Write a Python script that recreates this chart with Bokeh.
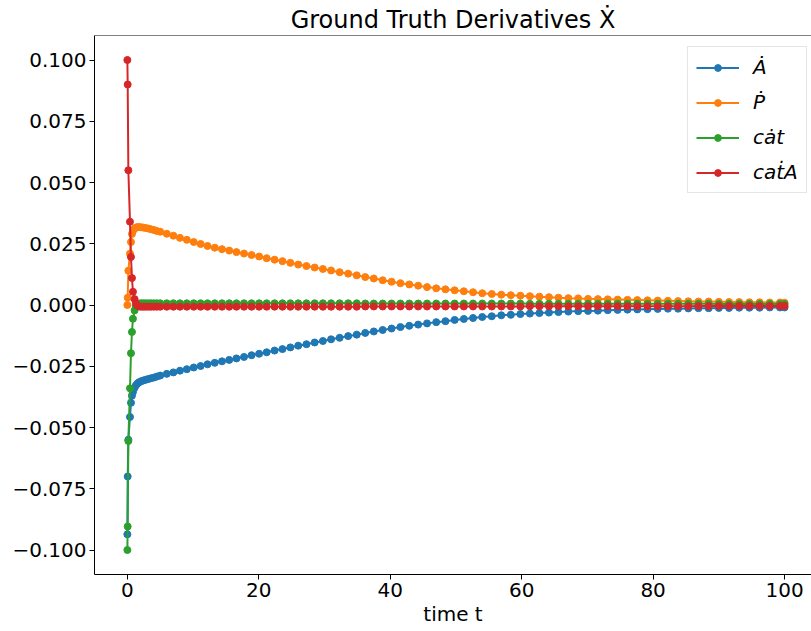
from bokeh.plotting import figure
from bokeh.models import Range1d, FixedTicker, CustomJSTickFormatter, Legend, LegendItem, Span
from bokeh.embed import file_html
from bokeh.resources import INLINE

# ---- data ----
time = [
    0, 0.05, 0.15, 0.4, 0.55, 0.7, 0.85, 1.1, 1.3, 1.55,
    1.8, 2.1, 2.45, 2.8, 3.2, 3.6, 4.05, 4.5, 5.0, 6.0,
    7.0, 8.0, 9.05, 10.1, 11.15, 12.2, 13.3, 14.4, 15.5, 16.6,
    17.75, 18.9, 20.05, 21.2, 22.4, 23.6, 24.8, 26.0, 27.25, 28.5,
    29.75, 31.0, 32.3, 33.6, 34.9, 36.2, 37.5, 38.85, 40.2, 41.55,
    42.9, 44.25, 45.6, 47.0, 48.4, 49.8, 51.2, 52.6, 54.0, 55.45,
    56.9, 58.35, 59.8, 61.25, 62.7, 64.15, 65.6, 67.1, 68.6, 70.1,
    71.6, 73.1, 74.6, 76.1, 77.6, 79.15, 80.7, 82.25, 83.8, 85.35,
    86.9, 88.45, 90.0, 91.55, 93.1, 94.65, 96.2, 97.75, 99.3, 100.0,
]

A_dot = [
    -0.0936, -0.070, -0.055, -0.0457, -0.0399, -0.037, -0.0355, -0.0338, -0.0328, -0.0320,
    -0.0315, -0.0311, -0.0308, -0.0305, -0.0302, -0.0299, -0.0296, -0.0292, -0.0288, -0.0281,
    -0.0275, -0.0268, -0.0262, -0.0255, -0.0249, -0.0242, -0.0236, -0.0230, -0.0224, -0.0218,
    -0.0212, -0.0205, -0.0199, -0.0193, -0.0186, -0.0180, -0.0173, -0.0166, -0.0160, -0.0153,
    -0.0147, -0.0140, -0.0134, -0.0127, -0.0121, -0.0114, -0.0108, -0.0102, -0.0096, -0.0090,
    -0.0085, -0.0080, -0.0075, -0.0070, -0.0066, -0.0061, -0.0057, -0.0053, -0.0049, -0.0046,
    -0.0042, -0.0040, -0.0037, -0.0035, -0.0033, -0.0031, -0.0029, -0.0027, -0.0025, -0.0024,
    -0.0023, -0.0021, -0.0020, -0.0019, -0.0018, -0.0017, -0.0016, -0.0015, -0.0015, -0.0014,
    -0.0013, -0.0013, -0.0012, -0.0012, -0.0011, -0.0011, -0.0011, -0.0010, -0.0010, -0.0010,
]

P_dot = [
    0.0, 0.003, 0.014, 0.021, 0.0257, 0.029, 0.0302, 0.0312, 0.0316, 0.0318,
    0.0318, 0.0317, 0.0316, 0.0314, 0.0312, 0.0309, 0.0306, 0.0302, 0.0299, 0.0291,
    0.0283, 0.0274, 0.0266, 0.0257, 0.0249, 0.0241, 0.0234, 0.0228, 0.0222, 0.0216,
    0.0210, 0.0204, 0.0198, 0.0191, 0.0185, 0.0179, 0.0172, 0.0165, 0.0159, 0.0153,
    0.0147, 0.0141, 0.0134, 0.0128, 0.0121, 0.0114, 0.0108, 0.0101, 0.0095, 0.0089,
    0.0084, 0.0079, 0.0073, 0.0068, 0.0064, 0.0060, 0.0056, 0.0052, 0.0048, 0.0045,
    0.0042, 0.0040, 0.0038, 0.0036, 0.0034, 0.0032, 0.0030, 0.0028, 0.0027, 0.0025,
    0.0024, 0.0023, 0.0022, 0.0021, 0.0020, 0.0019, 0.0018, 0.0017, 0.0016, 0.0015,
    0.0014, 0.0014, 0.0013, 0.0012, 0.0012, 0.0011, 0.0011, 0.0010, 0.0010, 0.0009,
]

cat_dot = [
    -0.100, -0.0904, -0.0555, -0.034, -0.0197, -0.011, -0.0056, -0.0022, -0.0004, 0.0004,
    0.0006, 0.0007, 0.0007, 0.0007, 0.0007, 0.0007, 0.0007, 0.0007, 0.0007, 0.0007,
    0.0007, 0.0007, 0.0007, 0.0007, 0.0007, 0.0007, 0.0007, 0.0007, 0.0007, 0.0007,
    0.0007, 0.0007, 0.0007, 0.0007, 0.0007, 0.0007, 0.0007, 0.0007, 0.0007, 0.0007,
    0.0007, 0.0007, 0.0007, 0.0007, 0.0007, 0.0006, 0.0006, 0.0006, 0.0006, 0.0006,
    0.0006, 0.0006, 0.0006, 0.0006, 0.0006, 0.0006, 0.0006, 0.0006, 0.0006, 0.0006,
    0.0006, 0.0006, 0.0006, 0.0005, 0.0005, 0.0005, 0.0005, 0.0005, 0.0005, 0.0005,
    0.0005, 0.0005, 0.0005, 0.0005, 0.0005, 0.0005, 0.0005, 0.0005, 0.0005, 0.0005,
    0.0005, 0.0005, 0.0004, 0.0004, 0.0004, 0.0004, 0.0004, 0.0004, 0.0004, 0.0004,
]

catA_dot = [
    0.100, 0.090, 0.055, 0.034, 0.0196, 0.011, 0.0054, 0.0024, 0.0007, -0.0003,
    -0.0006, -0.0007, -0.0007, -0.0007, -0.0007, -0.0007, -0.0007, -0.0007, -0.0007, -0.0007,
    -0.0007, -0.0007, -0.0007, -0.0007, -0.0007, -0.0007, -0.0007, -0.0007, -0.0007, -0.0007,
    -0.0007, -0.0007, -0.0007, -0.0007, -0.0007, -0.0007, -0.0007, -0.0007, -0.0007, -0.0007,
    -0.0007, -0.0007, -0.0007, -0.0007, -0.0007, -0.0006, -0.0006, -0.0006, -0.0006, -0.0006,
    -0.0006, -0.0006, -0.0006, -0.0006, -0.0006, -0.0006, -0.0006, -0.0006, -0.0006, -0.0006,
    -0.0006, -0.0006, -0.0006, -0.0005, -0.0005, -0.0005, -0.0005, -0.0005, -0.0005, -0.0005,
    -0.0005, -0.0005, -0.0005, -0.0005, -0.0005, -0.0005, -0.0005, -0.0005, -0.0005, -0.0005,
    -0.0004, -0.0004, -0.0004, -0.0004, -0.0004, -0.0004, -0.0004, -0.0004, -0.0004, -0.0004,
]

series_labels = ["\u0226", "\u1E56", "c\u0227t", "ca\u1E6BA"]
series_colors = ["#1f77b4", "#ff7f0e", "#2ca02c", "#d62728"]
y_ticks = [-0.1, -0.075, -0.05, -0.025, 0.0, 0.025, 0.05, 0.075, 0.1]
x_ticks = [0, 20, 40, 60, 80, 100]

FONT = "DejaVu Sans"

p = figure(
    width=811, height=631, output_backend="svg", toolbar_location=None,
    x_range=Range1d(-5, 104.1), y_range=Range1d(-0.11, 0.11),
    min_border_left=94, min_border_right=0, min_border_top=35, min_border_bottom=57,
    background_fill_color="white", border_fill_color="white",
)

p.title.text = "Ground Truth Derivatives \u1E8A"
p.title.align = "center"
p.title.text_font = FONT
p.title.text_font_size = "24px"
p.title.text_font_style = "normal"
p.title.text_color = "black"
p.title.standoff = 4

p.xgrid.visible = False
p.ygrid.visible = False
p.outline_line_color = None
p.add_layout(Span(location=0.11, dimension="width", line_color="black", line_width=1))

for ax in (p.xaxis[0], p.yaxis[0]):
    ax.axis_line_color = "black"
    ax.axis_line_width = 1
    ax.major_tick_line_color = "black"
    ax.major_tick_in = 0
    ax.major_tick_out = 5
    ax.minor_tick_line_color = None
    ax.major_label_text_font = FONT
    ax.major_label_text_font_size = "20px"
    ax.major_label_text_color = "black"
    ax.major_label_standoff = 3

p.xaxis.ticker = FixedTicker(ticks=x_ticks)
p.yaxis.ticker = FixedTicker(ticks=y_ticks)
p.yaxis.formatter = CustomJSTickFormatter(
    code="return (tick < -1e-9 ? '\u2212' : '') + Math.abs(tick).toFixed(3);"
)
p.xaxis.axis_label = "time t"
p.xaxis.axis_label_text_font = FONT
p.xaxis.axis_label_text_font_size = "20px"
p.xaxis.axis_label_text_font_style = "normal"
p.xaxis.axis_label_text_color = "black"
p.xaxis.axis_label_standoff = 2

items = []
for ys, col, lab in zip([A_dot, P_dot, cat_dot, catA_dot], series_colors, series_labels):
    ln = p.line(time, ys, line_color=col, line_width=2)
    sc = p.scatter(time, ys, size=7, fill_color=col, line_color=col)
    items.append(LegendItem(label=lab, renderers=[ln, sc]))

legend = Legend(
    items=items, location=(593, 381), margin=0, padding=8, spacing=11,
    glyph_width=43, glyph_height=17, label_height=24, label_standoff=14,
    label_text_font=FONT, label_text_font_size="20px", label_text_font_style="italic",
    label_text_color="black",
    border_line_color="#cccccc", border_line_width=1,
    background_fill_color="white", background_fill_alpha=0.8,
)
p.add_layout(legend)

open("out.html", "w").write(file_html(p, INLINE))
